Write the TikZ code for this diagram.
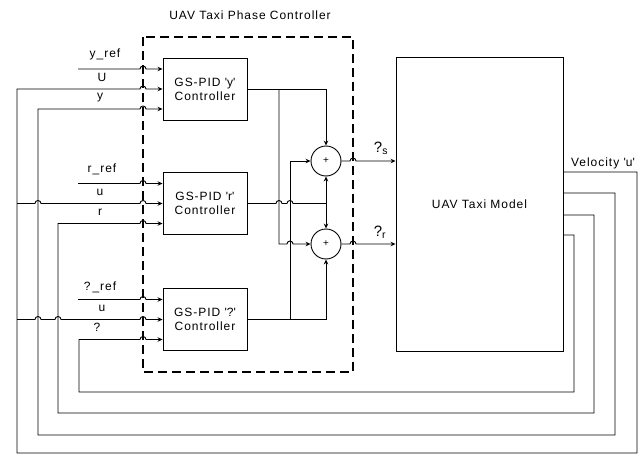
\documentclass[tikz,border=0pt]{standalone}
\usepackage{fontspec}
\setmainfont{Liberation Sans}[LetterSpace=8]
\usetikzlibrary{arrows.meta}
\begin{document}
\begin{tikzpicture}[x=1pt, y=-1pt, >={Stealth[length=5pt, width=4.5pt]}, line width=0.9pt,
  font=\fontsize{12}{14}\selectfont,
  ctrl/.style={draw, minimum width=84pt, minimum height=62pt, align=center},
  sumnode/.style={draw, circle, minimum size=30pt, inner sep=0pt, font=\fontsize{10}{10}\selectfont},
  lbl/.style={inner sep=1pt},
  hop/.style={insert path={arc[start angle=180, end angle=0, radius=3pt]}}]
\useasboundingbox (0,0) rectangle (641,455);
% controller blocks
\node[ctrl] (ctrlY) at (205,89) {GS-PID \textquotesingle y\textquotesingle\\Controller};
\node[ctrl, below of=ctrlY, node distance=114.5pt] (ctrlR) {GS-PID \textquotesingle r\textquotesingle\\Controller};
\node[ctrl, below of=ctrlR, node distance=116pt] (ctrlP) {GS-PID \textquotesingle ?\textquotesingle\\Controller};
\node[draw, minimum width=167pt, minimum height=294pt] (model) at (479.5,204) {UAV Taxi Model};
\node[sumnode] (sumS) at (326,161) {+};
\node[sumnode] (sumR) at (326,244) {+};
% dashed phase controller box
\draw[line width=2pt, dash pattern=on 9pt off 5pt] (143,37) rectangle (353,372);
\node (title) at (250,15) {UAV Taxi Phase Controller};
% free ends
\coordinate (yref) at (78,69);
\coordinate (rref) at (78,183.5);
\coordinate (pref) at (78,299.5);
\coordinate (oU) at (563,172);
\coordinate (oY) at (563,193);
\coordinate (oR) at (563,215);
\coordinate (oP) at (563,235);
\coordinate (jU2) at (17,203.5);
\coordinate (jU3) at (17,319.5);
\coordinate (jY) at (279,89);
\coordinate (jR) at (326,203.5);
\coordinate (jP) at (290,319.5);
% reference inputs
\draw[->] (yref) -- (140,69) [hop] -- ([yshift=20pt]ctrlY.west);
\draw[->] (rref) -- (140,183.5) [hop] -- ([yshift=20pt]ctrlR.west);
\draw[->] (pref) -- (140,299.5) [hop] -- ([yshift=20pt]ctrlP.west);
% feedback loops
\draw[->] (oU) -- (637,172) -- (637,453) -- (17,453) -- (17,89) -- (140,89) [hop] -- (ctrlY.west);
\draw[->] (jU2) -- (35,203.5) [hop] -- (140,203.5) [hop] -- (ctrlR.west);
\draw[->] (jU3) -- (35,319.5) [hop] -- (55,319.5) [hop] -- (140,319.5) [hop] -- (ctrlP.west);
\draw[->] (oY) -- (615,193) -- (615,435) -- (38,435) -- (38,109) -- (140,109) [hop] -- ([yshift=-20pt]ctrlY.west);
\draw[->] (oR) -- (594,215) -- (594,413) -- (58,413) -- (58,223.5) -- (140,223.5) [hop] -- ([yshift=-20pt]ctrlR.west);
\draw[->] (oP) -- (574,235) -- (574,392) -- (79,392) -- (79,339.5) -- (140,339.5) [hop] -- ([yshift=-20pt]ctrlP.west);
% summing
\draw[->] (ctrlY.east) -| (sumS.north);
\draw[->] (jY) -- (279,244) -- (287,244) [hop] -- (sumR.west);
\draw (ctrlR.east) -- (276,203.5) [hop] -- (287,203.5) [hop] -- (jR);
\draw[->] (jR) -- (sumS.south);
\draw[->] (jR) -- (sumR.north);
\draw[->] (ctrlP.east) -| (sumR.south);
\draw[->] (jP) |- (sumS.west);
\draw[->] (sumS.east) -- (350,161) [hop] -- (model.west |- sumS.east);
\draw[->] (sumR.east) -- (350,244) [hop] -- (model.west |- sumR.east);
% labels
\node[lbl] (lyref) at (105,54) {y\_ref};
\node[lbl] (lU) at (102,77) {U};
\node[lbl] (ly) at (100,98) {y};
\node[lbl] (lrref) at (102,169) {r\_ref};
\node[lbl] (lu2) at (100,192) {u};
\node[lbl] (lr) at (100,212) {r};
\node[lbl] (lpref) at (100,287) {?\,\_ref};
\node[lbl] (lu3) at (102,308) {u};
\node[lbl] (lp) at (97,327) {?};
\node[lbl, font=\fontsize{15}{15}\selectfont] (lpsiS) at (381,148) {?\textsubscript{s}};
\node[lbl, font=\fontsize{15}{15}\selectfont] (lpsiR) at (380,232) {?\textsubscript{r}};
\node[lbl] (lvel) at (603,163) {Velocity \textquotesingle u\textquotesingle};
\end{tikzpicture}
\end{document}
